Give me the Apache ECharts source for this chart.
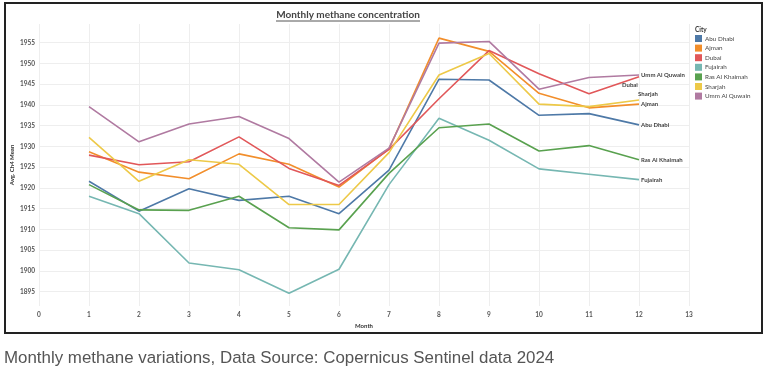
<!DOCTYPE html>
<html>
<head>
<meta charset="utf-8">
<script src="https://cdn.jsdelivr.net/npm/echarts@6/dist/echarts.min.js"></script>
<style>
html,body{margin:0;padding:0;background:#fff;}
#c{width:768px;height:374px;}
</style>
</head>
<body>
<div id="c"></div>
<script>
const months = [1,2,3,4,5,6,7,8,9,10,11,12];
const cities = ['Abu Dhabi','Ajman','Dubai','Fujairah','Ras Al Khaimah','Sharjah','Umm Al Quwain'];
const abuDhabi     = [1921.6,1914.4,1919.8,1917.0,1918.0,1913.8,1924.3,1946.2,1946.0,1937.5,1937.9,1935.2];
const ajman        = [1928.7,1923.8,1922.2,1928.2,1925.7,1920.2,1929.4,1956.1,1952.9,1942.8,1939.3,1940.2];
const dubai        = [1927.9,1925.6,1926.3,1932.3,1924.7,1920.6,1929.3,1941.5,1953.1,1947.5,1942.7,1946.8];
const fujairah     = [1918.0,1913.8,1901.9,1900.3,1894.6,1900.4,1920.8,1936.8,1931.5,1924.6,1923.3,1922.0];
const rasAlKhaimah = [1920.8,1914.7,1914.6,1918.0,1910.4,1909.9,1923.5,1934.5,1935.4,1928.9,1930.2,1926.8];
const sharjah      = [1932.2,1921.6,1926.8,1925.7,1916.0,1916.0,1928.5,1947.2,1952.4,1940.2,1939.6,1941.2];
const ummAlQuwain  = [1939.6,1931.1,1935.4,1937.2,1931.9,1921.4,1929.6,1954.9,1955.3,1943.8,1946.6,1947.2];
const yTicks = [1895,1900,1905,1910,1915,1920,1925,1930,1935,1940,1945,1950,1955];
const xTicks = [0,1,2,3,4,5,6,7,8,9,10,11,12,13];

const values = [abuDhabi, ajman, dubai, fujairah, rasAlKhaimah, sharjah, ummAlQuwain];
const colors = ['#4e79a7','#f28e2b','#e15759','#76b7b2','#59a14f','#edc948','#b07aa1'];
const labelOffsets = {'Dubai':[-19,8],'Sharjah':[-3,-6]};

const chart = echarts.init(document.getElementById('c'));
const series = cities.map((name,i)=>({
  name: name,
  type: 'line',
  data: months.map((m,j)=>[m, values[i][j]]),
  showSymbol: false,
  symbol: 'none',
  lineStyle: {width: 1.6, color: colors[i]},
  itemStyle: {color: colors[i]},
  endLabel: {
    show: true,
    formatter: name,
    fontSize: 6,
    fontFamily: 'Lato',
    fontWeight: 'bold',
    color: '#444',
    distance: 2,
    offset: labelOffsets[name] || [0,0]
  },
  z: 3
}));

chart.setOption({
  animation: false,
  backgroundColor: '#fff',
  grid: {left: 39, right: 79, top: 24, bottom: 68, containLabel: false, outerBoundsMode: 'none'},
  xAxis: {
    type: 'value',
    min: 0, max: 13, interval: 1,
    name: 'Month',
    nameLocation: 'middle',
    nameGap: 17,
    nameMoveOverlap: false,
    nameTextStyle: {fontSize: 6, fontFamily: 'Lato', fontWeight: 'bold', color: '#333'},
    axisLine: {show: false},
    axisTick: {show: false},
    axisLabel: {fontSize: 6.5, fontFamily: 'Lato', fontWeight: 'bold', color: '#555', margin: 5,
      formatter: v => String(v)},
    splitLine: {show: true, lineStyle: {color: '#eeeeee', width: 1}}
  },
  yAxis: {
    type: 'value',
    min: 1891.55, max: 1959.5,
    name: 'Avg. Ch4 Mean',
    nameLocation: 'middle',
    nameGap: 24,
    nameMoveOverlap: false,
    nameRotate: 90,
    nameTextStyle: {fontSize: 6, fontFamily: 'Lato', fontWeight: 'bold', color: '#333'},
    axisLine: {show: false},
    axisTick: {show: false, customValues: yTicks},
    axisLabel: {fontSize: 6.5, fontFamily: 'Lato', fontWeight: 'bold', color: '#555', margin: 4,
      customValues: yTicks, formatter: v => String(v)},
    splitLine: {show: true, lineStyle: {color: '#eeeeee', width: 1}}
  },
  legend: {
    orient: 'vertical',
    left: 695, top: 35,
    padding: 0,
    icon: 'rect',
    itemWidth: 7, itemHeight: 7, itemGap: 2.6,
    textStyle: {fontSize: 6.3, fontFamily: 'Lato', color: '#444', padding: [0,0,0,-2]},
    data: cities
  },
  graphic: [
    {type: 'rect', shape: {x: 5, y: 3, width: 757, height: 330},
     style: {fill: null, stroke: '#222', lineWidth: 2}, z: 10},
    {type: 'text', x: 348, y: 15,
     style: {text: 'Monthly methane concentration', fontSize: 10, fontFamily: 'Lato', fontWeight: 'bold',
       fill: '#444', align: 'center', verticalAlign: 'middle'}},
    {type: 'line', shape: {x1: 276, y1: 21, x2: 420, y2: 21}, style: {stroke: '#555', lineWidth: 1}},
    {type: 'text', x: 695, y: 30,
     style: {text: 'City', fontSize: 6.5, fontFamily: 'Lato', fontWeight: 'bold', fill: '#333', verticalAlign: 'middle'}},
    {type: 'text', x: 4, y: 358,
     style: {text: 'Monthly methane variations, Data Source: Copernicus Sentinel data 2024', fontSize: 16.9,
       fontFamily: 'Liberation Sans', fill: '#555', verticalAlign: 'middle'}}
  ],
  series: series
});
</script>
</body>
</html>
